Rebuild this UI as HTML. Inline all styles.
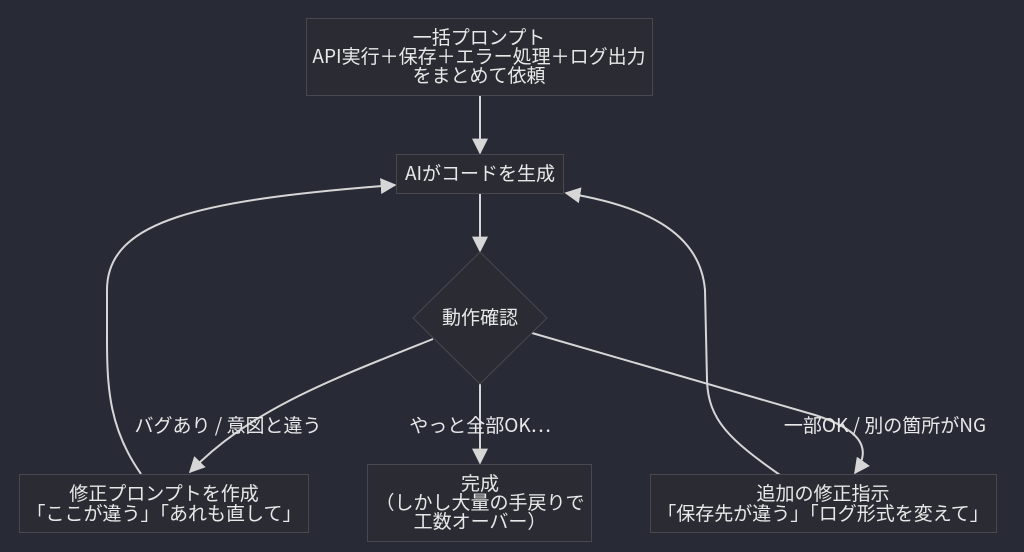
<!DOCTYPE html>
<html><head><meta charset="utf-8">
<style>
html,body{margin:0;padding:0;background:#282a36;}
svg{display:block;}
text{font-family:"Noto Sans CJK JP","Liberation Sans",sans-serif;font-size:19px;fill:#e8e8e8;text-anchor:middle;}
.n{fill:#2b2c33;stroke:#48484e;stroke-width:1;}
.e{fill:none;stroke:#d6d6d6;stroke-width:2;}
</style></head><body>
<svg width="1024" height="552" viewBox="0 0 1024 552" xmlns="http://www.w3.org/2000/svg">
<defs>
<marker id="b" viewBox="0 0 10 10" refX="9" refY="5" markerWidth="16" markerHeight="16" orient="auto" markerUnits="userSpaceOnUse">
<path d="M0,0 L10,5 L0,10 z" fill="#d6d6d6"/></marker>
</defs>
<path class="e" d="M480,95 L480,153" marker-end="url(#b)"/>
<path class="e" d="M480,193 L480,251" marker-end="url(#b)"/>
<path class="e" d="M433,339 C330,380 250,410 190,472" marker-end="url(#b)"/>
<path class="e" d="M480,384 L480,463" marker-end="url(#b)"/>
<path class="e" d="M532,333 L815,415 C855,428 875,445 855,473" marker-end="url(#b)"/>
<path class="e" d="M141,474 C110,430 107,390 107,340 L107,290 C107,220 200,200 395,185" marker-end="url(#b)"/>
<path class="e" d="M780,475 C730,440 708,420 707,380 L705,290 C700,230 640,205 566,193" marker-end="url(#b)"/>
<rect class="n" x="306.5" y="18.5" width="346" height="77"/>
<text x="479" y="44">一括プロンプト</text>
<text x="479" y="63">API実行＋保存＋エラー処理＋ログ出力</text>
<text x="479" y="82">をまとめて依頼</text>
<rect class="n" x="396.5" y="154.5" width="167" height="39"/>
<text x="480" y="180">AIがコードを生成</text>
<polygon class="n" points="480,252 547,318 480,384 413,318"/>
<text x="480" y="324">動作確認</text>
<rect class="n" x="19.5" y="474.5" width="289" height="58"/>
<text x="164" y="500">修正プロンプトを作成</text>
<text x="164" y="520">「ここが違う」「あれも直して」</text>
<rect class="n" x="367.5" y="464.5" width="224" height="77"/>
<text x="480" y="490">完成</text>
<text x="480" y="509">（しかし大量の手戻りで</text>
<text x="480" y="528">工数オーバー）</text>
<rect class="n" x="650.5" y="474.5" width="346" height="58"/>
<text x="823" y="500">追加の修正指示</text>
<text x="823" y="520">「保存先が違う」「ログ形式を変えて」</text>
<text x="228" y="432">バグあり / 意図と違う</text>
<text x="480" y="432">やっと全部OK…</text>
<text x="885" y="432">一部OK / 別の箇所がNG</text>
</svg>
</body></html>
